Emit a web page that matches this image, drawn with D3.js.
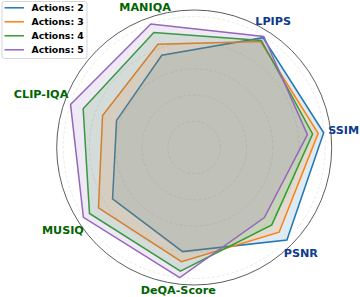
<!DOCTYPE html>
<meta charset="utf-8">
<style>
  body { margin: 0; background: white; }
  text { font-family: 'DejaVu Sans', sans-serif; font-weight: bold; }
</style>
<script src="https://d3js.org/d3.v7.min.js"></script>
<div id="chart"></div>
<script>
// metrics, counter-clockwise starting near 3 o'clock
var metrics = ["SSIM", "LPIPS", "MANIQA", "CLIP-IQA", "MUSIQ", "DeQA-Score", "PSNR"];
var metricColors = ["#0b3a8f", "#0b3a8f", "#006400", "#006400", "#006400", "#006400", "#0b3a8f"];

var seriesNames = ["Actions: 2", "Actions: 3", "Actions: 4", "Actions: 5"];
var seriesColors = ["#1f77b4", "#ff7f0e", "#2ca02c", "#9467bd"];

// normalised scores
var actions2 = [0.995, 0.99, 0.747, 0.628, 0.737, 0.80, 1.0];
var actions3 = [0.953, 0.955, 0.836, 0.741, 0.864, 0.877, 0.916];
var actions4 = [0.91, 0.965, 0.93, 0.898, 0.945, 0.95, 0.837];
var actions5 = [0.87, 1.0, 1.0, 1.0, 1.0, 1.0, 0.757];

var gridTicks = [0.2, 0.4, 0.6, 0.8, 1.0];

var W = 360, H = 297, cx = 194.2, cy = 147.5;

var svg = d3.select("#chart").append("svg")
    .attr("width", W)
    .attr("height", H);

var g = svg.append("g").attr("transform", "translate(" + cx + "," + cy + ")");

var r = d3.scaleLinear().domain([0, 1.05]).range([0, 137.5]);
// math angle, ccw from east
var theta = d3.scaleLinear().domain([0, metrics.length]).range([6.5 * Math.PI / 180, 6.5 * Math.PI / 180 + 2 * Math.PI]);

// grid circles
g.selectAll(".grid").data(gridTicks).enter().append("circle")
    .attr("r", function(d) { return r(d); })
    .attr("fill", "none")
    .attr("stroke", "#dcdcdc")
    .attr("stroke-width", 0.6)
    .attr("stroke-dasharray", "3,2");

var radial = d3.lineRadial()
    .angle(function(d, i) { return Math.PI / 2 - theta(i); })
    .radius(function(d) { return r(d); })
    .curve(d3.curveLinearClosed);

var allSeries = [actions2, actions3, actions4, actions5];

allSeries.forEach(function(vals, k) {
  g.append("path")
    .attr("d", radial(vals))
    .attr("fill", seriesColors[k])
    .attr("fill-opacity", 0.15)
    .attr("stroke", seriesColors[k])
    .attr("stroke-width", 1.5)
    .attr("stroke-linejoin", "miter");
});

// outer frame
g.append("circle")
    .attr("r", r(1.05))
    .attr("fill", "none")
    .attr("stroke", "#333")
    .attr("stroke-width", 0.8);

// metric labels, bbox pushed just outside the frame
var labelR = r(1.05) - 3;
metrics.forEach(function(m, i) {
  var a = theta(i);
  var t = g.append("text")
    .attr("text-anchor", "middle")
    .attr("dominant-baseline", "central")
    .style("font-size", "11.2px")
    .attr("fill", metricColors[i])
    .text(m);
  var bb = t.node().getBBox();
  var ext = Math.abs(Math.cos(a)) * bb.width / 2 + Math.abs(Math.sin(a)) * 5.5;
  var rr = labelR + ext;
  t.attr("x", rr * Math.cos(a)).attr("y", -rr * Math.sin(a));
});

// legend
var legend = svg.append("g").attr("transform", "translate(2,1.5)");
legend.append("rect")
    .attr("width", 85)
    .attr("height", 57)
    .attr("rx", 2.5)
    .attr("fill", "white")
    .attr("fill-opacity", 0.8)
    .attr("stroke", "#cccccc")
    .attr("stroke-width", 0.8);

seriesNames.forEach(function(s, k) {
  var y = 6.3 + k * 14;
  legend.append("line")
    .attr("x1", 2.5).attr("x2", 22)
    .attr("y1", y).attr("y2", y)
    .attr("stroke", seriesColors[k])
    .attr("stroke-width", 1.5);
  legend.append("text")
    .attr("x", 29.5)
    .attr("y", y)
    .attr("dominant-baseline", "central")
    .style("font-size", "9.3px")
    .attr("fill", "#000")
    .text(s);
});
</script>
